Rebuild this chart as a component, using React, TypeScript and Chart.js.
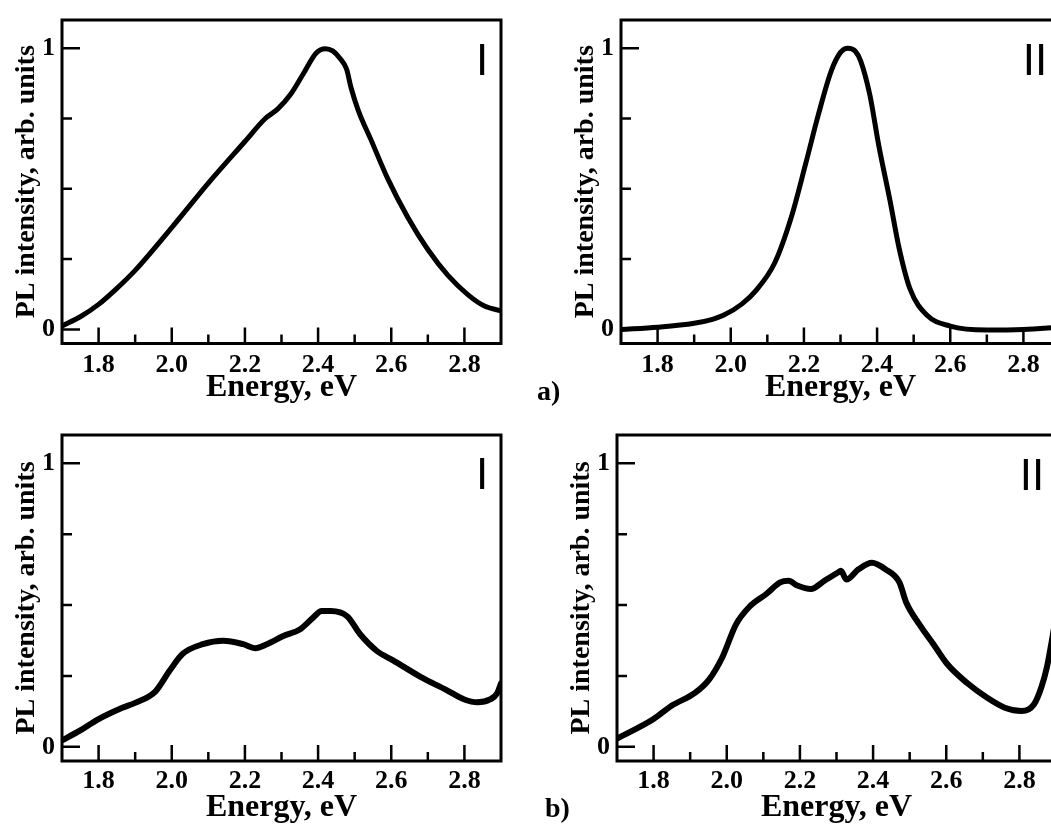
import React, { useEffect, useRef } from "react";
import { Chart, registerables } from "chart.js";

Chart.register(...registerables);

// ---- tick definitions ----
const xMajorTicks = [1.8, 2.0, 2.2, 2.4, 2.6, 2.8];
const xMinorTicks = [1.9, 2.1, 2.3, 2.5, 2.7];
const yMajorTicks = [0, 1];
const yMinorTicks = [0.25, 0.5, 0.75];

const xTitle = "Energy, eV";
const yTitle = "PL intensity, arb. units";

// ---- panel a) I ----
const energyAI = [1.70, 1.75, 1.80, 1.85, 1.90, 2.00, 2.10, 2.20, 2.255, 2.29, 2.325, 2.36, 2.395, 2.42, 2.44, 2.46, 2.478, 2.49, 2.51, 2.545, 2.59, 2.645, 2.70, 2.755, 2.81, 2.855, 2.90];
const intensityAI = [0.012, 0.045, 0.089, 0.146, 0.21, 0.362, 0.52, 0.668, 0.749, 0.784, 0.836, 0.91, 0.983, 0.998, 0.99, 0.963, 0.925, 0.86, 0.778, 0.673, 0.537, 0.399, 0.284, 0.192, 0.123, 0.083, 0.066];

// ---- panel a) II ----
const energyAII = [1.70, 1.80, 1.90, 1.95, 1.98, 2.03, 2.07, 2.12, 2.165, 2.205, 2.24, 2.275, 2.30, 2.32, 2.34, 2.355, 2.38, 2.405, 2.435, 2.46, 2.49, 2.535, 2.60, 2.70, 2.80, 2.90];
const intensityAII = [0.0, 0.008, 0.022, 0.036, 0.05, 0.09, 0.14, 0.236, 0.397, 0.59, 0.766, 0.92, 0.985, 1.0, 0.99, 0.955, 0.835, 0.651, 0.46, 0.29, 0.144, 0.052, 0.012, -0.002, 0.0, 0.008];

// ---- panel b) I ----
const energyBI = [1.70, 1.75, 1.80, 1.865, 1.90, 1.955, 1.995, 2.03, 2.085, 2.14, 2.195, 2.228, 2.26, 2.305, 2.35, 2.385, 2.41, 2.435, 2.48, 2.515, 2.56, 2.605, 2.68, 2.75, 2.80, 2.835, 2.87, 2.89, 2.90];
const intensityBI = [0.023, 0.058, 0.098, 0.138, 0.155, 0.195, 0.27, 0.328, 0.362, 0.374, 0.362, 0.348, 0.362, 0.391, 0.414, 0.454, 0.479, 0.479, 0.46, 0.397, 0.339, 0.305, 0.247, 0.201, 0.167, 0.157, 0.167, 0.19, 0.224];

// ---- panel b) II ----
const energyBII = [1.70, 1.80, 1.848, 1.913, 1.951, 1.988, 2.025, 2.062, 2.109, 2.146, 2.169, 2.193, 2.23, 2.267, 2.304, 2.312, 2.327, 2.36, 2.397, 2.434, 2.472, 2.49, 2.527, 2.565, 2.602, 2.658, 2.713, 2.76, 2.806, 2.84, 2.86, 2.875, 2.888, 2.90];
const intensityBII = [0.029, 0.098, 0.144, 0.19, 0.236, 0.316, 0.431, 0.494, 0.54, 0.58, 0.586, 0.569, 0.557, 0.586, 0.615, 0.621, 0.59, 0.626, 0.649, 0.626, 0.58, 0.511, 0.431, 0.362, 0.293, 0.224, 0.172, 0.138, 0.126, 0.15, 0.21, 0.28, 0.37, 0.46];

const panelLabels = ["I", "II", "I", "II"];
const rowLabels = ["a)", "b)"];

const SERIF = '"Liberation Serif", "Times New Roman", serif';
const SANS = '"Liberation Sans", Arial, sans-serif';

const frameTicksPlugin = {
  id: "frameTicks",
  afterDatasetsDraw(chart: any, _args: any, opts: any) {
    const { ctx, chartArea: a, scales } = chart;
    const x = scales.x;
    const y = scales.y;
    ctx.save();
    ctx.strokeStyle = "#000";
    ctx.lineWidth = 3;
    ctx.strokeRect(a.left, a.top, a.right - a.left, a.bottom - a.top);
    ctx.lineWidth = 2.5;
    ctx.beginPath();
    xMajorTicks.forEach((v) => {
      const p = x.getPixelForValue(v);
      ctx.moveTo(p, a.bottom);
      ctx.lineTo(p, a.bottom - 16);
    });
    xMinorTicks.forEach((v) => {
      const p = x.getPixelForValue(v);
      ctx.moveTo(p, a.bottom);
      ctx.lineTo(p, a.bottom - 9);
    });
    yMajorTicks.forEach((v) => {
      const p = y.getPixelForValue(v);
      ctx.moveTo(a.left, p);
      ctx.lineTo(a.left + 18, p);
    });
    yMinorTicks.forEach((v) => {
      const p = y.getPixelForValue(v);
      ctx.moveTo(a.left, p);
      ctx.lineTo(a.left + 10, p);
    });
    ctx.stroke();
    ctx.fillStyle = "#000";
    ctx.font = `44px ${SANS}`;
    ctx.textAlign = "center";
    ctx.textBaseline = "alphabetic";
    ctx.fillText(opts.text, a.right + opts.dx, a.top + opts.dy);
    ctx.restore();
  },
};

type PanelProps = {
  energy: number[];
  intensity: number[];
  label: string;
  left: number;
  top: number;
  padTop: number;
  xAxisHeight: number;
  tickPad: number;
  titlePad: number;
  lineWidth: number;
  labelDx: number;
  labelDy: number;
};

const CW = 530;

function Panel(p: PanelProps) {
  const ref = useRef<HTMLCanvasElement | null>(null);
  const height = p.top === 0 ? 415 : 414;
  useEffect(() => {
    if (!ref.current) return;
    const data = p.energy.map((e, i) => ({ x: e, y: p.intensity[i] }));
    const chart = new Chart(ref.current, {
      type: "line",
      data: {
        datasets: [
          {
            data,
            borderColor: "#000",
            borderWidth: p.lineWidth,
            pointRadius: 0,
            fill: false,
            cubicInterpolationMode: "monotone",
            borderCapStyle: "round",
            borderJoinStyle: "round",
          },
        ],
      },
      options: {
        animation: false,
        responsive: false,
        maintainAspectRatio: false,
        parsing: false,
        layout: { padding: { top: p.padTop, left: 0, right: CW - 62 - 439, bottom: 0 } },
        plugins: {
          legend: { display: false },
          tooltip: { enabled: false },
          frameTicks: { text: p.label, dx: p.labelDx, dy: p.labelDy },
        } as any,
        scales: {
          x: {
            type: "linear",
            min: 1.7,
            max: 2.9,
            grid: { display: false, drawTicks: false },
            border: { display: false },
            afterBuildTicks: (s: any) => {
              s.ticks = xMajorTicks.map((v) => ({ value: v }));
            },
            afterFit: (s: any) => {
              s.height = p.xAxisHeight;
            },
            ticks: {
              autoSkip: false,
              maxRotation: 0,
              padding: p.tickPad,
              color: "#000",
              font: { family: SERIF, size: 26, weight: "bold", lineHeight: 1 },
              callback: (v: any) => Number(v).toFixed(1),
            },
            title: {
              display: true,
              text: xTitle,
              color: "#000",
              font: { family: SERIF, size: 32, weight: "bold", lineHeight: 1 },
              padding: { top: 0, bottom: p.titlePad },
            },
          },
          y: {
            type: "linear",
            min: -0.05,
            max: 1.1,
            grid: { display: false, drawTicks: false },
            border: { display: false },
            afterBuildTicks: (s: any) => {
              s.ticks = yMajorTicks.map((v) => ({ value: v }));
            },
            afterFit: (s: any) => {
              s.width = 62;
            },
            ticks: {
              autoSkip: false,
              padding: 7,
              color: "#000",
              font: { family: SERIF, size: 26, weight: "bold", lineHeight: 1 },
              callback: (v: any) => String(v),
            },
            title: {
              display: true,
              text: yTitle,
              color: "#000",
              font: { family: SERIF, size: 28, weight: "bold", lineHeight: 1 },
              padding: { top: 13, bottom: 0 },
            },
          },
        },
      } as any,
      plugins: [frameTicksPlugin as any],
    });
    return () => chart.destroy();
  }, []);
  return (
    <canvas
      ref={ref}
      width={CW}
      height={height}
      style={{ position: "absolute", left: p.left, top: p.top, width: CW, height, display: "block" }}
    />
  );
}

const rowLabelStyle: React.CSSProperties = {
  position: "absolute",
  fontFamily: SERIF,
  fontWeight: "bold",
  fontSize: 28,
  lineHeight: "28px",
  color: "#000",
  whiteSpace: "nowrap",
};

export default function App() {
  return (
    <div
      style={{
        position: "absolute",
        left: 0,
        top: 0,
        width: 1051,
        height: 829,
        overflow: "hidden",
        background: "#fff",
      }}
    >
      <Panel energy={energyAI} intensity={intensityAI} label={panelLabels[0]} left={0} top={0} padTop={10} xAxisHeight={71.5} tickPad={8.5} titlePad={11} lineWidth={5} labelDx={-19} labelDy={55} />
      <Panel energy={energyAII} intensity={intensityAII} label={panelLabels[1]} left={559} top={0} padTop={10} xAxisHeight={71.5} tickPad={8.5} titlePad={11} lineWidth={5} labelDx={-25} labelDy={55} />
      <Panel energy={energyBI} intensity={intensityBI} label={panelLabels[2]} left={0} top={415} padTop={12.5} xAxisHeight={68} tickPad={7} titlePad={5} lineWidth={6} labelDx={-19} labelDy={54} />
      <Panel energy={energyBII} intensity={intensityBII} label={panelLabels[3]} left={555} top={415} padTop={12.5} xAxisHeight={68} tickPad={7} titlePad={5} lineWidth={6} labelDx={-24} labelDy={54.5} />
      <div style={{ ...rowLabelStyle, left: 537, top: 377 }}>{rowLabels[0]}</div>
      <div style={{ ...rowLabelStyle, left: 545, top: 794 }}>{rowLabels[1]}</div>
    </div>
  );
}
